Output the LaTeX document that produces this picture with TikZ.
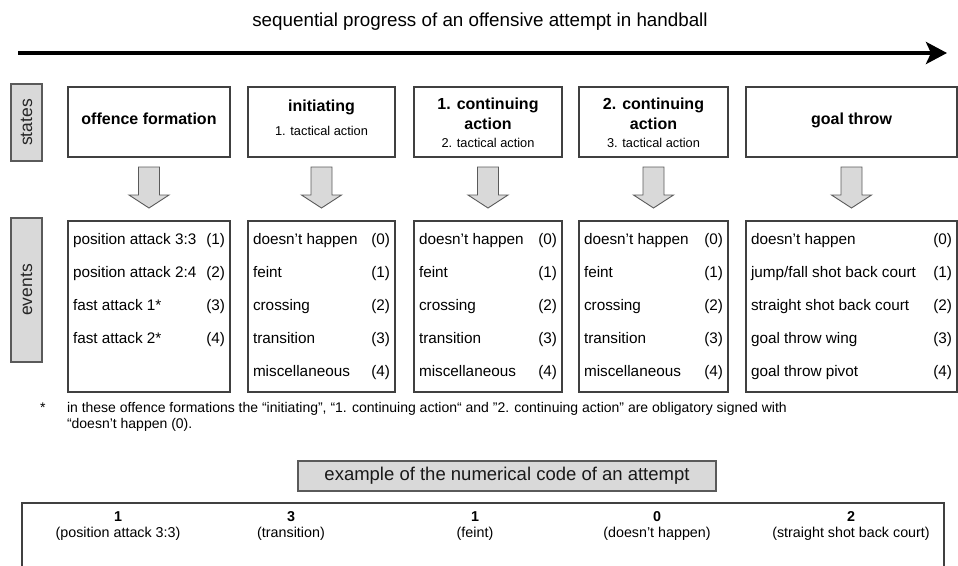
\documentclass[tikz,border=0pt]{standalone}
\usepackage{fontspec}
\setmainfont{Liberation Sans}
\usetikzlibrary{arrows.meta,calc}
\definecolor{boxline}{HTML}{404040}
\definecolor{labelfill}{HTML}{D9D9D9}
\definecolor{labelline}{HTML}{5A5A5A}
\newcommand{\blockarr}[2]{%
  \draw[blockarrow]
    ($(#1.south)+(-10.5,10)$) -- ($(#1.south)+(10.5,10)$) --
    ($(#2.north)+(10.5,-26)$) -- ($(#2.north)+(20,-26)$) --
    ($(#2.north)+(0,-13)$) -- ($(#2.north)+(-20,-26)$) --
    ($(#2.north)+(-10.5,-26)$) -- cycle;}
\begin{document}
\begin{tikzpicture}[x=1pt,y=-1pt,
  every node/.style={inner sep=0pt, outer sep=0pt},
  statebox/.style={draw=boxline, line width=1.1pt, fill=white},
  labelbox/.style={draw=labelline, line width=1.1pt, fill=labelfill, text=black!85},
  blockarrow/.style={draw=labelline, line width=0.9pt, fill=labelfill},
  head/.style={font=\fontsize{16}{20}\selectfont\bfseries, align=center},
  sub/.style={font=\fontsize{12.8}{15}\selectfont},
  ev/.style={font=\fontsize{15.3}{18}\selectfont, anchor=west, text height=11pt, text depth=3.5pt},
  evn/.style={font=\fontsize{15.3}{18}\selectfont, anchor=east, text height=11pt, text depth=3.5pt},
  foot/.style={font=\fontsize{14}{16}\selectfont, anchor=west, text height=10pt, text depth=3pt},
  code/.style={font=\fontsize{14.3}{17}\selectfont, text height=10pt, text depth=3pt},
  codeb/.style={font=\fontsize{14.3}{17}\selectfont\bfseries, text height=10pt, text depth=3pt},
]
\useasboundingbox (0,0) rectangle (958,565);

% title and time arrow
\node[font=\fontsize{18.8}{22}\selectfont] (title) at (480,22) {sequential progress of an offensive attempt in handball};
\coordinate (arS) at (18,53);
\coordinate (arE) at (947,53);
\draw[line width=4pt, -{Stealth[length=21pt,width=22pt,inset=5pt]}] (arS) -- (arE);

% side labels
\node[labelbox, rotate=90, minimum width=77pt, minimum height=31pt, font=\fontsize{17.5}{21}\selectfont] (lstates) at (26.5,122.5) {states};
\node[labelbox, rotate=90, minimum width=144pt, minimum height=31pt, font=\fontsize{17.5}{21}\selectfont] (levents) at (26.5,290) {events};

% state boxes (y 87..157)
\node[statebox, minimum width=162pt, minimum height=70pt] (s1) at (149,122) {};
\node[statebox, minimum width=147pt, minimum height=70pt] (s2) at (321.5,122) {};
\node[statebox, minimum width=148pt, minimum height=70pt] (s3) at (488,122) {};
\node[statebox, minimum width=149pt, minimum height=70pt] (s4) at (653.5,122) {};
\node[statebox, minimum width=211pt, minimum height=70pt] (s5) at (851.5,122) {};

\node[head] (s1h) at (149,119) {offence formation};
\node[head] (s2h) at (321.5,107) {initiating};
\node[sub]  (s2s) at (321.5,131) {1. tactical action};
\node[head] (s3h) at (488,114) {1. continuing\\action};
\node[sub]  (s3s) at (488,143) {2. tactical action};
\node[head] (s4h) at (653.5,114) {2. continuing\\action};
\node[sub]  (s4s) at (653.5,143) {3. tactical action};
\node[head] (s5h) at (851.5,120) {goal throw};

% event boxes (y 221..392)
\node[statebox, minimum width=162pt, minimum height=171pt] (e1) at (149,306.5) {};
\node[statebox, minimum width=147pt, minimum height=171pt] (e2) at (321.5,306.5) {};
\node[statebox, minimum width=148pt, minimum height=171pt] (e3) at (488,306.5) {};
\node[statebox, minimum width=149pt, minimum height=171pt] (e4) at (653.5,306.5) {};
\node[statebox, minimum width=211pt, minimum height=171pt] (e5) at (851.5,306.5) {};

% block arrows
\blockarr{s1}{e1}
\blockarr{s2}{e2}
\blockarr{s3}{e3}
\blockarr{s4}{e4}
\blockarr{s5}{e5}

% event entries
\foreach \t/\n [count=\k] in {{position attack 3:3}/(1), {position attack 2:4}/(2), {fast attack 1*}/(3), {fast attack 2*}/(4)} {
  \node[ev] (e1t\k) at ($(e1.north west)+(5,19.5+33*\k-33)$) {\t};
  \node[evn] (e1n\k) at ($(e1.north east)+(-5,19.5+33*\k-33)$) {\n};
}
\foreach \b in {2,3,4} {
  \foreach \t/\n [count=\k] in {{doesn’t happen}/(0), feint/(1), crossing/(2), transition/(3), miscellaneous/(4)} {
    \node[ev] (e\b t\k) at ($(e\b.north west)+(5,19.5+33*\k-33)$) {\t};
    \node[evn] (e\b n\k) at ($(e\b.north east)+(-5,19.5+33*\k-33)$) {\n};
  }
}
\foreach \t/\n [count=\k] in {{doesn’t happen}/(0), {jump/fall shot back court}/(1), {straight shot back court}/(2), {goal throw wing}/(3), {goal throw pivot}/(4)} {
  \node[ev] (e5t\k) at ($(e5.north west)+(5,19.5+33*\k-33)$) {\t};
  \node[evn] (e5n\k) at ($(e5.north east)+(-5,19.5+33*\k-33)$) {\n};
}

% footnote
\node[foot] (fstar) at (40,409) {*};
\node[foot] (f1) at (67,409) {in these offence formations the “initiating”, “1. continuing action“ and "2. continuing action” are obligatory signed with};
\node[foot] (f2) at (67,425) {“doesn’t happen (0).};

% example
\node[labelbox, minimum width=418pt, minimum height=30pt, text=black!90, font=\fontsize{18.5}{21}\selectfont] (ex) at (507,476) {example of the numerical code of an attempt};
\node[statebox, anchor=north west, minimum width=922pt, minimum height=100pt] (codebox) at (22,503) {};
\node[codeb] (c1n) at (118,518) {1};
\node[code]  (c1t) at (118,534) {(position attack 3:3)};
\node[codeb] (c2n) at (291,518) {3};
\node[code]  (c2t) at (291,534) {(transition)};
\node[codeb] (c3n) at (475,518) {1};
\node[code]  (c3t) at (475,534) {(feint)};
\node[codeb] (c4n) at (657,518) {0};
\node[code]  (c4t) at (657,534) {(doesn’t happen)};
\node[codeb] (c5n) at (851,518) {2};
\node[code]  (c5t) at (851,534) {(straight shot back court)};
\end{tikzpicture}
\end{document}
